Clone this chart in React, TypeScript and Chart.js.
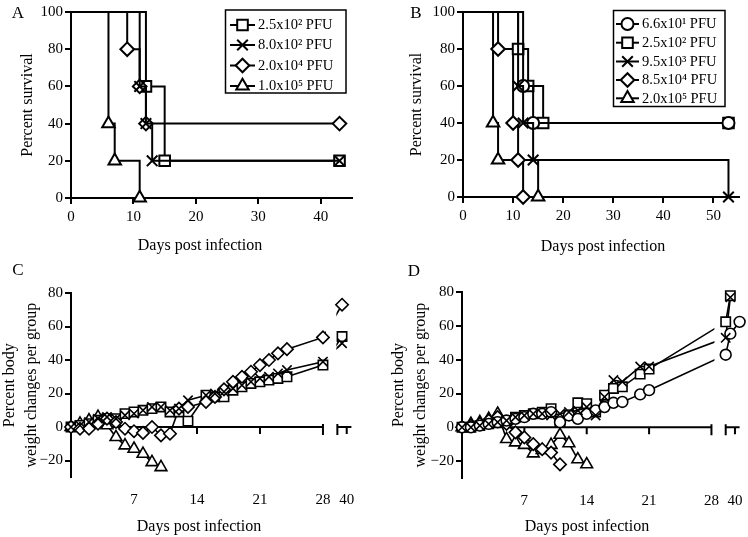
import React, { useEffect, useRef } from 'react';
import { Chart, registerables } from 'chart.js';
import { drawPoint } from 'chart.js/helpers';

Chart.register(...registerables);

const FONT = '"Liberation Serif", "DejaVu Serif", serif';

// ---------------- DATA ----------------
// Panel A – survival (percent) vs days post infection
const legendLabelsA = ['2.5x10² PFU', '8.0x10² PFU', '2.0x10⁴ PFU', '1.0x10⁵ PFU'];
const aSquareDays = [0, 12, 15, 43];
const aSquareSurvival = [100, 60, 20, 20];
const aCrossDays = [0, 11, 12, 13, 43];
const aCrossSurvival = [100, 60, 40, 20, 20];
const aDiamondDays = [0, 9, 11, 12, 43];
const aDiamondSurvival = [100, 80, 60, 40, 40];
const aTriangleDays = [0, 6, 7, 11];
const aTriangleSurvival = [100, 40, 20, 0];

// Panel B – survival
const legendLabelsB = ['6.6x10¹ PFU', '2.5x10² PFU', '9.5x10³ PFU', '8.5x10⁴ PFU', '2.0x10⁵ PFU'];
const bCircleDays = [0, 12, 14, 53];
const bCircleSurvival = [100, 60, 40, 40];
const bSquareDays = [0, 11, 13, 16, 53];
const bSquareSurvival = [100, 80, 60, 40, 40];
const bCrossDays = [0, 11, 12, 14, 53];
const bCrossSurvival = [100, 60, 40, 20, 0];
const bDiamondDays = [0, 7, 10, 11, 12];
const bDiamondSurvival = [100, 80, 40, 20, 0];
const bTriangleDays = [0, 6, 7, 15];
const bTriangleSurvival = [100, 40, 20, 0];

// Panel C – percent body weight change per group
const cMainDays = [0, 1, 2, 3, 4, 5, 6, 7, 8, 9, 10, 11, 12, 13, 15, 16, 17, 18, 19, 20, 21, 22, 23, 24, 28, 39];
const cSquareWeight = [0, 1, 2, 4, 5, 5, 8, 9, 10, 11, 12, 9, 9, 3.5, 19, 18, 18, 22, 24, 26, 27, 28, 29, 30, 37, 54];
const cCrossWeight = [0, 1, 3, 5, 6, 5, 7, 8, 10, 12, 12, 10, 11, 16, 19, 20, 21, 23, 25, 27, 29, 30, 32, 34, 39, 50];
const cDiamondWeight = [0, -1, -1, 2, 5, 3, -1, -2.5, -3.5, 0, -5, -4, 11, 12, 15, 18, 22.5, 27, 30, 33, 37, 40, 44, 46.5, 53.5, 73];
const cTriangleDays = [0, 1, 2, 3, 4, 5, 6, 7, 8, 9, 10];
const cTriangleWeight = [0, 2, 4, 6, 1, -6, -11, -13, -16, -21, -24];

// Panel D – percent body weight change per group
const dCircleDays = [0, 1, 2, 3, 4, 5, 6, 7, 8, 9, 10, 11, 12, 13, 14, 15, 16, 17, 18, 20, 21, 38, 39, 41];
const dCircleWeight = [0, 0, 1, 2, 3, 4, 5, 6, 8, 8, 9, 3, 7, 5, 8, 10, 12, 14.5, 15, 19.5, 22, 43, 55.5, 62.5];
const dSquareDays = [0, 1, 2, 3, 4, 5, 6, 7, 8, 9, 10, 11, 12, 13, 14, 15, 16, 17, 18, 20, 21, 38, 39];
const dSquareWeight = [0, 0, 1, 2, 3, 4, 6, 7, 8, 9, 11, 3, 7, 14.5, 14, 9, 19, 23, 24, 31.5, 34.5, 62.5, 78];
const dCrossDays = [0, 1, 2, 3, 4, 5, 6, 7, 8, 9, 10, 11, 12, 13, 14, 15, 16, 17, 18, 20, 21, 38, 39];
const dCrossWeight = [0, 0, 1, 2, 3, 4, 6, 7, 8, 8, 7, 8, 9, 10, 12, 7, 18, 28, 27, 36, 36, 53, 77];
const dDiamondDays = [0, 1, 2, 3, 4, 5, 6, 7, 8, 9, 10, 11];
const dDiamondWeight = [0, 1, 2, 4, 6, 2, -3, -6, -10, -13, -15, -22];
const dTriangleDays = [0, 1, 2, 3, 4, 5, 6, 7, 8, 9, 10, 11, 12, 13, 14];
const dTriangleWeight = [0, 2, 3, 5, 8, -7, -9, -10.5, -15.5, -13.5, -10.5, -4.5, -9.5, -19, -22];

// Tick values / labels
const survivalTicksY = [0, 20, 40, 60, 80, 100];
const survivalTicksXA = [0, 10, 20, 30, 40];
const survivalTicksXB = [0, 10, 20, 30, 40, 50];
const weightTicksY = [-20, 0, 20, 40, 60, 80];
const weightTickDays = [7, 14, 21, 28, 40];
const weightTickLabels = ['7', '14', '21', '28', '40'];

// Texts
const xTitleText = 'Days post infection';
const survivalYTitle = 'Percent survival';
const weightYTitle = ['Percent body', 'weight changes per group'];

// ---------------- AXIS BREAK (28 | 38) ----------------
const BREAK_START = 28;
const BREAK_RESUME = 38;
const BREAK_GAP = 1.6;
const LATE_SCALE = 0.52;
const LAST_DAY = 41;
function axisPos(day: number) {
  return day <= BREAK_START ? day : BREAK_START + BREAK_GAP + (day - BREAK_RESUME) * LATE_SCALE;
}

// ---------------- STYLES ----------------
const SURV_R: Record<string, number> = { rect: 7.5, crossRot: 7.5, rectRot: 6.8, triangle: 7.2, circle: 6 };
const WEIGHT_R: Record<string, number> = { rect: 6.6, crossRot: 6.6, rectRot: 6.2, triangle: 6.8, circle: 5.4 };

type Series = { label: string; shape: string; days: number[]; values: number[]; order: number };

const seriesA: Series[] = [
  { label: legendLabelsA[0], shape: 'rect', days: aSquareDays, values: aSquareSurvival, order: 2 },
  { label: legendLabelsA[1], shape: 'crossRot', days: aCrossDays, values: aCrossSurvival, order: 0 },
  { label: legendLabelsA[2], shape: 'rectRot', days: aDiamondDays, values: aDiamondSurvival, order: 1 },
  { label: legendLabelsA[3], shape: 'triangle', days: aTriangleDays, values: aTriangleSurvival, order: 3 },
];
const seriesB: Series[] = [
  { label: legendLabelsB[0], shape: 'circle', days: bCircleDays, values: bCircleSurvival, order: 1 },
  { label: legendLabelsB[1], shape: 'rect', days: bSquareDays, values: bSquareSurvival, order: 2 },
  { label: legendLabelsB[2], shape: 'crossRot', days: bCrossDays, values: bCrossSurvival, order: 0 },
  { label: legendLabelsB[3], shape: 'rectRot', days: bDiamondDays, values: bDiamondSurvival, order: 3 },
  { label: legendLabelsB[4], shape: 'triangle', days: bTriangleDays, values: bTriangleSurvival, order: 4 },
];
const seriesC: Series[] = [
  { label: legendLabelsA[0], shape: 'rect', days: cMainDays, values: cSquareWeight, order: 2 },
  { label: legendLabelsA[1], shape: 'crossRot', days: cMainDays, values: cCrossWeight, order: 0 },
  { label: legendLabelsA[2], shape: 'rectRot', days: cMainDays, values: cDiamondWeight, order: 1 },
  { label: legendLabelsA[3], shape: 'triangle', days: cTriangleDays, values: cTriangleWeight, order: 3 },
];
const seriesD: Series[] = [
  { label: legendLabelsB[0], shape: 'circle', days: dCircleDays, values: dCircleWeight, order: 1 },
  { label: legendLabelsB[1], shape: 'rect', days: dSquareDays, values: dSquareWeight, order: 2 },
  { label: legendLabelsB[2], shape: 'crossRot', days: dCrossDays, values: dCrossWeight, order: 0 },
  { label: legendLabelsB[3], shape: 'rectRot', days: dDiamondDays, values: dDiamondWeight, order: 3 },
  { label: legendLabelsB[4], shape: 'triangle', days: dTriangleDays, values: dTriangleWeight, order: 4 },
];

// ---------------- GEOMETRY ----------------
const geomA = {
  left: 0, top: 0, width: 374, height: 260,
  axisLeft: 71, padTop: 12, padRight: 22, xAxisHeight: 62, xMax: 45, yTitlePad: 18.4,
  letter: 'A', letterX: 18, letterY: 14, xTitleX: 200, xTitleY: 246,
  legend: { x: 225.5, y: 10, w: 120.5, h: 83, rows: [25, 45, 65.5, 86], lineX1: 230, lineX2: 255, textX: 258, fontSize: 14.5 },
};
const geomB = {
  left: 374, top: 0, width: 374, height: 260,
  axisLeft: 89, padTop: 12, padRight: 4.5, xAxisHeight: 63, xMax: 55, yTitlePad: 33.4,
  letter: 'B', letterX: 42, letterY: 14, xTitleX: 229, xTitleY: 246.5,
  legend: { x: 239.5, y: 10.5, w: 111.5, h: 96, rows: [24, 42.7, 61.5, 80, 98.3], lineX1: 242, lineX2: 265, textX: 268, fontSize: 14.5 },
};
const geomC = {
  left: 0, top: 260, width: 374, height: 277,
  axisLeft: 71, padTop: 33, padRight: 22.6, xAxisHeight: 59.7, yTitlePad: -1,
  letter: 'C', letterX: 18, letterY: 11, xTitleX: 199, xTitleY: 266.5,
};
const geomD = {
  left: 374, top: 260, width: 374, height: 277,
  axisLeft: 88, padTop: 32.3, padRight: 5.6, xAxisHeight: 59.1, yTitlePad: 14,
  letter: 'D', letterX: 40, letterY: 12, xTitleX: 213, xTitleY: 266.5,
};

const tickFont = { family: FONT, size: 15 };
const titleFont = { family: FONT, size: 16 };

function fitX(h: number) {
  return (sc: any) => { sc.height = h; sc.paddingLeft = 0; sc.paddingRight = 0; };
}
function fitY(w: number) {
  return (sc: any) => { sc.width = w; sc.paddingTop = 0; sc.paddingBottom = 0; };
}

function decorPlugin(g: any, series: Series[]) {
  return {
    id: 'decor' + g.letter,
    afterDraw(chart: any) {
      const ctx = chart.ctx;
      ctx.save();
      ctx.fillStyle = '#000';
      ctx.textBaseline = 'middle';
      ctx.textAlign = 'center';
      ctx.font = `17px ${FONT}`;
      ctx.fillText(g.letter, g.letterX, g.letterY);
      ctx.font = `16px ${FONT}`;
      ctx.fillText(xTitleText, g.xTitleX, g.xTitleY);
      const lg = g.legend;
      if (lg) {
        ctx.strokeStyle = '#000';
        ctx.lineWidth = 1.5;
        ctx.strokeRect(lg.x, lg.y, lg.w, lg.h);
        series.forEach((s, i) => {
          const ry = lg.rows[i];
          ctx.lineWidth = 2;
          ctx.beginPath();
          ctx.moveTo(lg.lineX1, ry);
          ctx.lineTo(lg.lineX2, ry);
          ctx.stroke();
          ctx.fillStyle = '#fff';
          drawPoint(ctx, { pointStyle: s.shape, radius: SURV_R[s.shape], borderWidth: 2, rotation: 0 } as any, (lg.lineX1 + lg.lineX2) / 2, ry);
          ctx.fillStyle = '#000';
          ctx.textAlign = 'left';
          ctx.font = `${lg.fontSize}px ${FONT}`;
          ctx.fillText(s.label, lg.textX, ry + 0.5);
        });
      }
      ctx.restore();
    },
  };
}

function survivalConfig(g: any, series: Series[], xTicks: number[]): any {
  const datasets = series.map((s) => ({
    label: s.label,
    data: s.days.map((d, j) => ({ x: d, y: s.values[j] })),
    stepped: 'before',
    borderColor: '#000',
    borderWidth: 2,
    fill: false,
    tension: 0,
    pointStyle: s.shape,
    pointRadius: (c: any) => (c.dataIndex === 0 ? 0 : SURV_R[s.shape]),
    pointBorderWidth: 2,
    pointBackgroundColor: '#fff',
    pointBorderColor: '#000',
    clip: false,
    order: s.order,
  }));
  return {
    type: 'line',
    data: { datasets },
    plugins: [decorPlugin(g, series)],
    options: {
      responsive: false,
      animation: false,
      events: [],
      layout: { padding: { left: 0, top: g.padTop, right: g.padRight, bottom: 0 } },
      plugins: { legend: { display: false }, tooltip: { enabled: false } },
      scales: {
        x: {
          type: 'linear', min: 0, max: g.xMax,
          afterBuildTicks: (sc: any) => { sc.ticks = xTicks.map((v) => ({ value: v })); },
          afterFit: fitX(g.xAxisHeight),
          grid: { display: true, drawOnChartArea: false, drawTicks: true, tickLength: 6, color: '#000', lineWidth: 2 },
          border: { display: true, color: '#000', width: 2 },
          ticks: { font: tickFont, color: '#000', padding: 4, maxRotation: 0, autoSkip: false, callback: (v: any) => String(v) },
        },
        y: {
          type: 'linear', min: 0, max: 100,
          afterBuildTicks: (sc: any) => { sc.ticks = survivalTicksY.map((v) => ({ value: v })); },
          afterFit: fitY(g.axisLeft),
          grid: { display: true, drawOnChartArea: false, drawTicks: true, tickLength: 6, color: '#000', lineWidth: 2 },
          border: { display: true, color: '#000', width: 2 },
          ticks: { font: tickFont, color: '#000', padding: 2, callback: (v: any) => String(v) },
          title: { display: true, text: survivalYTitle, font: titleFont, color: '#000', padding: { top: g.yTitlePad, bottom: 0 } },
        },
      },
    },
  };
}

function weightConfig(g: any, series: Series[]): any {
  const pointSets = series.map((s) => ({
    label: s.label,
    data: s.days.map((d, j) => ({ x: axisPos(d), y: s.values[j] })),
    showLine: false,
    borderColor: '#000',
    pointStyle: s.shape,
    pointRadius: WEIGHT_R[s.shape],
    pointBorderWidth: 1.6,
    pointBackgroundColor: '#fff',
    pointBorderColor: '#000',
    clip: false,
    order: s.order,
  }));
  const lineSets = series.map((s, i) => ({
    label: s.label + ' line',
    data: s.days.map((d, j) => ({ x: axisPos(d), y: s.values[j] })),
    borderColor: '#000',
    borderWidth: 1.6,
    pointRadius: 0,
    tension: 0,
    fill: false,
    clip: false,
    order: 20 + i,
    gapLine: true,
  }));
  const breakPlugin = {
    id: 'break' + g.letter,
    beforeDatasetsDraw(chart: any) {
      const { ctx, scales } = chart;
      const x = scales.x;
      const y0 = scales.y.getPixelForValue(0);
      const px = (d: number) => x.getPixelForValue(axisPos(d));
      ctx.save();
      ctx.strokeStyle = '#000';
      ctx.lineWidth = 2;
      ctx.beginPath();
      ctx.moveTo(px(0), y0);
      ctx.lineTo(px(BREAK_START), y0);
      ctx.moveTo(px(BREAK_RESUME), y0);
      ctx.lineTo(px(LAST_DAY), y0);
      [7, 14, 21, 40].forEach((d) => { ctx.moveTo(px(d), y0); ctx.lineTo(px(d), y0 + 7); });
      [BREAK_START, BREAK_RESUME].forEach((d) => { ctx.moveTo(px(d), y0 - 3); ctx.lineTo(px(d), y0 + 8); });
      ctx.stroke();
      ctx.restore();
    },
    beforeDatasetDraw(chart: any, args: any) {
      const ds = chart.data.datasets[args.index];
      if (!ds.gapLine) return;
      const { ctx, scales } = chart;
      const a = scales.x.getPixelForValue(axisPos(BREAK_START)) + 3;
      const b = scales.x.getPixelForValue(axisPos(BREAK_RESUME)) - 1;
      ctx.save();
      ctx.beginPath();
      ctx.rect(0, 0, a, chart.height);
      ctx.rect(b, 0, chart.width - b, chart.height);
      ctx.clip();
    },
    afterDatasetDraw(chart: any, args: any) {
      const ds = chart.data.datasets[args.index];
      if (ds.gapLine) chart.ctx.restore();
    },
  };
  return {
    type: 'line',
    data: { datasets: [...pointSets, ...lineSets] },
    plugins: [breakPlugin, decorPlugin(g, series)],
    options: {
      responsive: false,
      animation: false,
      events: [],
      layout: { padding: { left: 0, top: g.padTop, right: g.padRight, bottom: 0 } },
      plugins: { legend: { display: false }, tooltip: { enabled: false } },
      scales: {
        x: {
          type: 'linear', min: 0, max: axisPos(LAST_DAY),
          afterBuildTicks: (sc: any) => { sc.ticks = weightTickDays.map((d) => ({ value: axisPos(d) })); },
          afterFit: fitX(g.xAxisHeight),
          grid: { display: false, drawTicks: false },
          border: { display: false },
          ticks: { font: tickFont, color: '#000', padding: 14, maxRotation: 0, autoSkip: false, callback: (_v: any, i: number) => weightTickLabels[i] },
        },
        y: {
          type: 'linear', min: -30, max: 80,
          afterBuildTicks: (sc: any) => { sc.ticks = weightTicksY.map((v) => ({ value: v })); },
          afterFit: fitY(g.axisLeft),
          grid: { display: true, drawOnChartArea: false, drawTicks: true, tickLength: 6, color: '#000', lineWidth: 2 },
          border: { display: true, color: '#000', width: 2 },
          ticks: { font: tickFont, color: '#000', padding: 2, callback: (v: any) => (v < 0 ? '\u2212' + Math.abs(v) : String(v)) },
          title: { display: true, text: weightYTitle, font: { family: FONT, size: 16, lineHeight: 1.375 }, color: '#000', padding: { top: g.yTitlePad, bottom: 0 } },
        },
      },
    },
  };
}

function Panel({ g, make }: { g: any; make: () => any }) {
  const ref = useRef<HTMLCanvasElement>(null);
  useEffect(() => {
    const chart = new Chart(ref.current as HTMLCanvasElement, make());
    return () => chart.destroy();
  }, []);
  return (
    <canvas
      ref={ref}
      width={g.width}
      height={g.height}
      style={{ position: 'absolute', left: g.left, top: g.top, width: g.width, height: g.height }}
    />
  );
}

export default function App() {
  return (
    <div style={{ position: 'absolute', left: 0, top: 0, width: 748, height: 537, background: '#fff', overflow: 'hidden' }}>
      <Panel g={geomA} make={() => survivalConfig(geomA, seriesA, survivalTicksXA)} />
      <Panel g={geomB} make={() => survivalConfig(geomB, seriesB, survivalTicksXB)} />
      <Panel g={geomC} make={() => weightConfig(geomC, seriesC)} />
      <Panel g={geomD} make={() => weightConfig(geomD, seriesD)} />
    </div>
  );
}
